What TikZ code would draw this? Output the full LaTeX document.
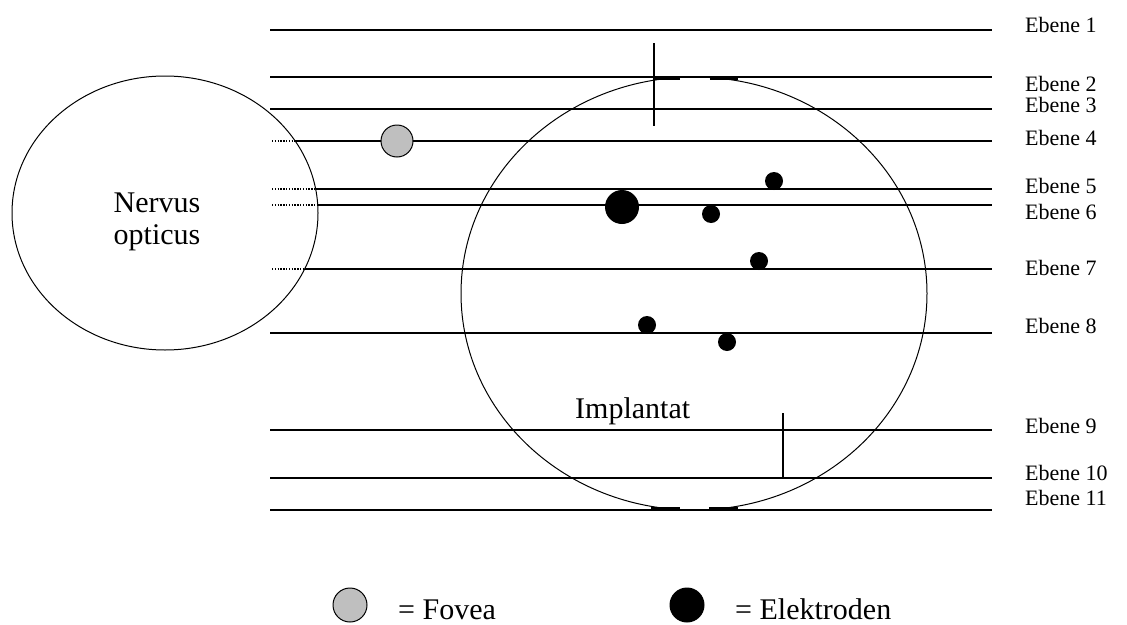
\documentclass[tikz,border=0pt]{standalone}
\usepackage{fontspec}
\setmainfont{Liberation Serif}
\usetikzlibrary{shapes.geometric}
\begin{document}
\begin{tikzpicture}[x=1pt,y=-1pt,
  plane/.style={line width=1.4pt},
  dotplane/.style={line width=1.4pt, dash pattern=on 1.4pt off 1.4pt},
  outline/.style={ellipse, draw, line width=1pt, inner sep=0pt},
  electrode/.style={circle, fill=black, inner sep=0pt, minimum size=18pt},
  bigelectrode/.style={circle, fill=black, inner sep=0pt, minimum size=34pt},
  fovea/.style={circle, draw, line width=1pt, fill=black!25, inner sep=0pt, minimum size=32pt},
  lab/.style={anchor=base west, inner sep=0pt, font=\fontsize{22}{22}\selectfont},
  bigtext/.style={inner sep=0pt, font=\fontsize{30}{31}\selectfont},
  tick/.style={line width=1.4pt},
  seam/.style={line width=2.6pt}
]
\useasboundingbox (0,0) rectangle (1127,624);
\fill[white] (0,0) rectangle (1127,624);

% outlines
\node[outline, minimum width=306pt, minimum height=274pt] (nervus) at (165,213) {};
\node[outline, minimum width=466pt, minimum height=433pt] (implantat) at (694,293.5) {};

% planes
\foreach \n/\y/\b/\xs in {1/30/32/270, 2/77/91/270, 3/109/112/270, 4/141/145/295, 5/189/193/315.6, 6/205/219/317.7, 7/269/275/304.7, 8/333/333/270, 9/430/433/270, 10/478/480/270, 11/510/505/270}{
  \coordinate (L\n) at (\xs,\y);
  \coordinate (R\n) at (992,\y);
  \draw[plane] (L\n) -- (R\n);
  \node[lab] (E\n) at (1025,\b) {Ebene \n};
}
\foreach \n in {4,5,6,7}{
  \coordinate (D\n) at (272,0 |- L\n);
  \draw[dotplane] (D\n) -- (L\n);
}

% seams where implant touches planes
\coordinate (s1a) at (654,79); \coordinate (s1b) at (680,79);
\coordinate (s2a) at (710,79); \coordinate (s2b) at (738,79);
\coordinate (s3a) at (651,508.5); \coordinate (s3b) at (680,508.5);
\coordinate (s4a) at (709,508.5); \coordinate (s4b) at (738,508.5);
\draw[seam] (s1a) -- (s1b); \draw[seam] (s2a) -- (s2b);
\draw[seam] (s3a) -- (s3b); \draw[seam] (s4a) -- (s4b);

% ticks
\coordinate (t1a) at (654,43); \coordinate (t1b) at (654,126);
\coordinate (t2a) at (783,413); \coordinate (t2b) at (783,478);
\draw[tick] (t1a) -- (t1b);
\draw[tick] (t2a) -- (t2b);

% fovea and electrodes
\node[fovea] (fov) at (397,141) {};
\node[bigelectrode] (el0) at (622,207) {};
\node[electrode] (el1) at (774,181) {};
\node[electrode] (el2) at (711,214) {};
\node[electrode] (el3) at (759,261) {};
\node[electrode] (el4) at (647,325) {};
\node[electrode] (el5) at (727,342) {};

% texts
\node[bigtext, anchor=base] (nt1) at (157,212) {Nervus};
\node[bigtext, anchor=base] (nt2) at (157,244) {opticus};
\node[bigtext, anchor=base west] (it) at (575,418) {Implantat};

% legend
\node[fovea, minimum size=34pt] (legf) at (350,605) {};
\node[bigtext, anchor=base west] (legft) at (398,619) {= Fovea};
\node[bigelectrode, minimum size=35pt] (lege) at (687,605) {};
\node[bigtext, anchor=base west] (leget) at (735,619) {= Elektroden};
\end{tikzpicture}
\end{document}
